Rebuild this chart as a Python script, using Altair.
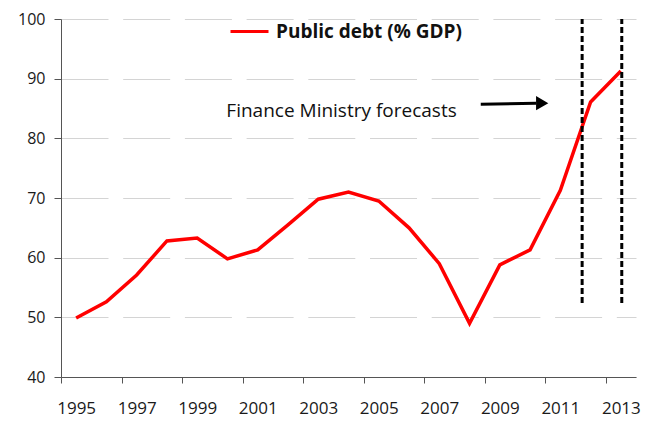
import altair as alt
import pandas as pd

years = list(range(1995, 2014))
debt = [49.9, 52.6, 57.1, 62.8, 63.3, 59.8, 61.3, 65.5, 69.8, 71.0, 69.5,
        65.0, 59.0, 49.0, 58.8, 61.3, 71.3, 86.1, 91.3]
series_name = "Public debt (% GDP)"

# forecast markers (vertical dashed lines)
forecast_x = [2011.72, 2013.03]
forecast_y_low = [52.4, 52.4]
forecast_y_high = [100, 100]

# annotation
note_text = ["Finance Ministry forecasts"]
note_x = [2003.77]
note_y = [84.5]
arrow_x = [2008.37]
arrow_x2 = [2010.2]
arrow_y = [85.7]
arrow_y2 = [85.9]
arrow_head_x = [2010.4]
arrow_head_y = [85.9]

y_ticks = [40, 50, 60, 70, 80, 90, 100]
x_tick_bounds = [y + 0.5 for y in range(1994, 2014)]

FONT = "Open Sans"

df = pd.DataFrame({"year": years, "debt": debt, "series": [series_name] * len(years)})
vdf = pd.DataFrame({"x": forecast_x, "y1": forecast_y_low, "y2": forecast_y_high})
ndf = pd.DataFrame({"t": note_text, "x": note_x, "y": note_y})
adf = pd.DataFrame({"x": arrow_x, "x2": arrow_x2, "y": arrow_y, "y2": arrow_y2})
hdf = pd.DataFrame({"x": arrow_head_x, "y": arrow_head_y})

xscale = alt.Scale(domain=[1994.5, 2013.5], nice=False, zero=False)
yscale = alt.Scale(domain=[40, 100], nice=False, zero=False)

xaxis = alt.Axis(
    values=x_tick_bounds,
    labelExpr="(datum.value + 0.5) % 2 == 1 ? '' + (datum.value + 0.5) : ''",
    labelOffset=15.13,
    tickSize=6,
    labelPadding=17,
    labelFontSize=17,
    labelFont=FONT,
    labelColor="#1a1a1a",
    labelFlush=False,
    labelOverlap=False,
    grid=False,
    domainColor="#555555",
    tickColor="#555555",
    title=None,
)
yaxis = alt.Axis(
    values=y_ticks,
    tickSize=7,
    labelPadding=9,
    labelFontSize=16,
    labelFont=FONT,
    labelColor="#1a1a1a",
    grid=True,
    gridColor="#d4d4d4",
    gridDash=[47, 14.7],
    gridWidth=1,
    domainColor="#555555",
    tickColor="#555555",
    title=None,
)

line = alt.Chart(df).mark_line(strokeWidth=3.5).encode(
    x=alt.X("year:Q", scale=xscale, axis=xaxis),
    y=alt.Y("debt:Q", scale=yscale, axis=yaxis),
    color=alt.Color(
        "series:N",
        scale=alt.Scale(range=["#ff0000"]),
        legend=alt.Legend(
            orient="none",
            legendX=168,
            legendY=-8,
            title=None,
            symbolType="stroke",
            symbolSize=1444,
            symbolStrokeWidth=3,
            labelFontSize=19,
            labelFontWeight="bold",
            labelFont=FONT,
            labelColor="#111111",
            labelOffset=6,
            labelLimit=400,
            padding=0,
        ),
    ),
)

vlines = alt.Chart(vdf).mark_rule(color="black", strokeWidth=3, strokeDash=[6, 3]).encode(
    x="x:Q", y="y1:Q", y2="y2:Q"
)

note = alt.Chart(ndf).mark_text(
    font=FONT, fontSize=19, align="center", baseline="middle", color="#111111"
).encode(x="x:Q", y="y:Q", text="t:N")

arrow = alt.Chart(adf).mark_rule(color="black", strokeWidth=3).encode(
    x="x:Q", x2="x2:Q", y="y:Q", y2="y2:Q"
)
head = alt.Chart(hdf).mark_point(
    shape="triangle-right", filled=True, color="black", size=200, opacity=1
).encode(x="x:Q", y="y:Q")

chart = (
    alt.layer(line, vlines, arrow, head, note)
    .properties(
        width=575,
        height=358,
        autosize=alt.AutoSizeParams(type="none"),
        padding={"left": 53, "top": 11, "right": 11, "bottom": 50},
    )
    .configure_view(stroke=None)
)

chart.save("out.html", embed_options={"renderer": "svg", "actions": False})
